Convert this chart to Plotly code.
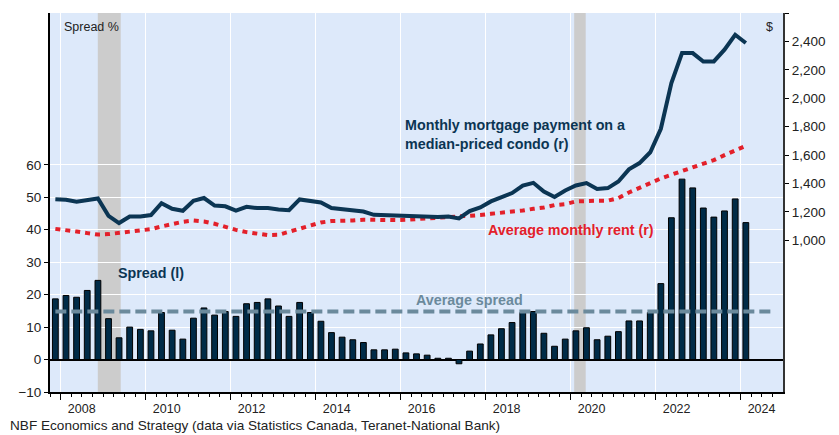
import pandas as pd
import plotly.graph_objects as go

# quarterly data, Q4 2007 .. Q1 2024
quarters = pd.period_range("2007Q4", "2024Q1", freq="Q")
dates = [q.start_time + (q.end_time - q.start_time) / 2 for q in quarters]

spread = [
    18.7, 19.75, 19.2, 21.3, 24.4, 12.6, 6.7, 10.0, 9.3, 8.85,
    14.5, 9.05, 6.3, 12.75, 15.9, 13.7, 14.8, 13.3, 17.2, 17.6,
    18.7, 16.5, 13.3, 17.6, 14.5, 11.8, 8.3, 6.9, 6.1, 5.25,
    3.0, 3.0, 3.2, 2.05, 1.75, 1.35, 0.4, 0.4, -1.3, 2.6,
    4.8, 7.6, 9.5, 11.4, 14.5, 14.8, 8.1, 4.1, 6.3, 8.85,
    9.8, 6.1, 7.2, 8.6, 11.9, 11.9, 14.5, 23.4, 43.7, 55.6,
    52.9, 46.7, 43.9, 45.8, 49.5, 42.2,
]

mortgage = [
    1290, 1286, 1272, 1281, 1295, 1173, 1122, 1168, 1168, 1178,
    1262, 1222, 1208, 1278, 1298, 1245, 1240, 1210, 1236, 1227,
    1227, 1217, 1212, 1288, 1281, 1267, 1227, 1220, 1217, 1203,
    1180, 1178, 1175, 1168, 1173, 1168, 1164, 1168, 1154, 1206,
    1232, 1274, 1305, 1333, 1386, 1405, 1344, 1305, 1351, 1386,
    1403, 1361, 1368, 1414, 1500, 1544, 1620, 1785, 2107, 2318,
    2318, 2259, 2259, 2342, 2447, 2389,
]

rent = [
    1081, 1074, 1062, 1051, 1041, 1044, 1051, 1060, 1069, 1079,
    1098, 1117, 1131, 1140, 1133, 1117, 1093, 1074, 1058, 1046,
    1037, 1039, 1060, 1083, 1107, 1126, 1136, 1136, 1140, 1145,
    1143, 1140, 1143, 1145, 1150, 1154, 1159, 1159, 1164, 1171,
    1178, 1187, 1194, 1199, 1210, 1222, 1231, 1248, 1255, 1274,
    1279, 1279, 1279, 1298, 1337, 1372, 1403, 1436, 1462, 1488,
    1516, 1541, 1565, 1600, 1633, 1666,
]

avg_spread = 14.8
avg_end = "2024-10-01"

recessions = [("2008-11-15", "2009-05-31"), ("2020-02-01", "2020-05-10")]

year_ticks = [f"{y}-01-01" for y in range(2008, 2025, 2)]
year_labels = [str(y) for y in range(2008, 2025, 2)]
left_ticks = [-10, 0, 10, 20, 30, 40, 50, 60]
right_ticks = [1000, 1200, 1400, 1600, 1800, 2000, 2200, 2400, 2600]

NAVY = "#0b3553"
RED = "#e3202a"
SLATE = "#6b8a9c"
FONT = "Liberation Sans, Arial, sans-serif"

fig = go.Figure()

fig.add_trace(go.Bar(
    x=dates, y=spread,
    marker=dict(color="#002b47", line=dict(color="#000000", width=1)),
    yaxis="y",
))

fig.add_trace(go.Scatter(
    x=[dates[0], avg_end], y=[avg_spread, avg_spread],
    mode="lines", line=dict(color=SLATE, width=4, dash="11px,5px"),
    yaxis="y",
))

fig.add_trace(go.Scatter(
    x=dates, y=rent, mode="lines",
    line=dict(color=RED, width=4, dash="5px,5px"),
    yaxis="y2",
))

fig.add_trace(go.Scatter(
    x=dates, y=mortgage, mode="lines",
    line=dict(color=NAVY, width=4),
    yaxis="y2",
))

for start, end in recessions:
    fig.add_shape(type="rect", xref="x", yref="paper", x0=start, x1=end,
                  y0=0, y1=1, fillcolor="#cccccc", line_width=0, layer="below")

def note(text, x, y, color, size=14.3, bold=True, anchor="left"):
    fig.add_annotation(
        text=f"<b>{text}</b>" if bold else text,
        xref="paper", yref="paper", x=x, y=y,
        xanchor=anchor, yanchor="middle", showarrow=False, align="left",
        font=dict(family=FONT, size=size, color=color),
    )

note("Spread %", 0.0164, 0.963, "#222222", size=12.5, bold=False)
note("$", 0.982, 0.963, "#222222", size=12.5, bold=False, anchor="center")
note("Monthly mortgage payment on a<br>median-priced condo (r)", 0.482, 0.679, NAVY)
note("Average monthly rent (r)", 0.595, 0.427, RED)
note("Spread (l)", 0.0905, 0.314, NAVY)
note("Average spread", 0.497, 0.243, SLATE)
note("NBF Economics and Strategy (data via Statistics Canada, Teranet-National Bank)",
     -0.0573, -0.089, "#222222", size=13.6, bold=False)

# the page adds an 8px body margin, so the figure is sized to fit the window
fig.update_layout(
    width=831, height=427,
    margin=dict(l=42, r=56, t=5, b=43),
    paper_bgcolor="#ffffff",
    plot_bgcolor="#dde9fa",
    showlegend=False,
    bargap=0.45,
    font=dict(family=FONT, size=13, color="#222222"),
    xaxis=dict(
        type="date",
        range=["2007-10-01", "2024-12-31"],
        tickvals=year_ticks, ticktext=year_labels,
        ticklabelshift=21, ticklabelstandoff=-2,
        ticks="outside", ticklen=6, tickcolor="#000000",
        showgrid=True, gridcolor="#ffffff", gridwidth=1,
        showline=True, linecolor="#000000", linewidth=1.5,
        tickfont=dict(size=12.5),
        automargin=False,
        minor=dict(tickmode="linear", tick0="2008-01-01", dtick="M3",
                   ticks="outside", ticklen=3, tickcolor="#000000", showgrid=False),
    ),
    yaxis=dict(
        range=[-10, 106.8],
        tickvals=left_ticks,
        ticks="outside", ticklen=4, tickcolor="#000000",
        showgrid=True, gridcolor="#ffffff", gridwidth=1,
        zeroline=True, zerolinecolor="#000000", zerolinewidth=1.5,
        showline=True, linecolor="#000000", linewidth=2,
        tickfont=dict(size=13.5),
        automargin=False,
    ),
    yaxis2=dict(
        overlaying="y", side="right",
        range=[-67, 2600],
        tickvals=right_ticks, tickformat=",",
        ticks="outside", ticklen=4, tickcolor="#000000",
        showgrid=False, zeroline=False,
        showline=True, linecolor="#333333", linewidth=2,
        tickfont=dict(size=13.5),
        automargin=False,
    ),
)

fig.write_html("out.html")
